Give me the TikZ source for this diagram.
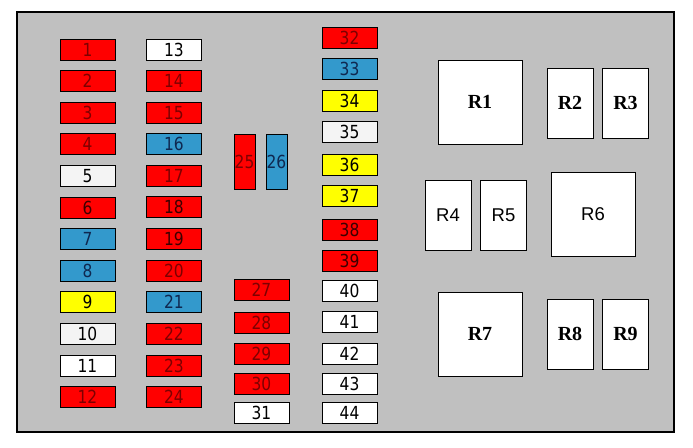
\documentclass[tikz,border=0pt]{standalone}
\usepackage{fontspec}
\newfontfamily\fusefont[FakeStretch=0.86]{DejaVu Sans}
\newfontfamily\relaysans{Liberation Sans}
\newfontfamily\relayserif{Liberation Serif}

\definecolor{boxgrey}{RGB}{192,192,192}
\definecolor{fusered}{RGB}{255,0,0}
\definecolor{fuseblue}{RGB}{51,153,204}
\definecolor{fuseyellow}{RGB}{255,255,0}
\definecolor{fuseoff}{RGB}{244,244,244}
\definecolor{redtext}{RGB}{125,0,0}
\definecolor{darkredtext}{RGB}{60,0,0}
\definecolor{bluetext}{RGB}{15,40,80}

\tikzset{
  fuse/.style={draw=black,line width=0.9pt,rectangle,inner sep=0pt,
    minimum width=55pt,minimum height=21pt,font=\fusefont\fontsize{18}{18}\selectfont},
  tallfuse/.style={fuse,minimum width=21pt,minimum height=55pt},
  redfuse/.style={fill=fusered,text=redtext},
  darkfuse/.style={fill=fusered,text=darkredtext},
  bluefuse/.style={fill=fuseblue,text=bluetext},
  yellowfuse/.style={fill=fuseyellow,text=black},
  whitefuse/.style={fill=white,text=black},
  offfuse/.style={fill=fuseoff,text=black},
  bigrelay/.style={draw=black,line width=0.9pt,fill=white,inner sep=0pt,
    minimum width=84pt,minimum height=84pt},
  smallrelay/.style={draw=black,line width=0.9pt,fill=white,inner sep=0pt,
    minimum width=46pt,minimum height=70pt},
  serifbold/.style={font=\relayserif\bfseries\fontsize{20}{20}\selectfont},
  plainsans/.style={font=\relaysans\fontsize{18.5}{18.5}\selectfont}
}

\begin{document}
\begin{tikzpicture}[x=1pt,y=-1pt]
  \useasboundingbox (0,0) rectangle (693,447);
  \draw[line width=1.2pt,fill=boxgrey] (17,12) rectangle (674,432);

  % first column
  \node[fuse,redfuse]    (f1)  at (87.5,49.5)  {1};
  \node[fuse,redfuse]    (f2)  at (87.5,81.1)  {2};
  \node[fuse,redfuse]    (f3)  at (87.5,112.7) {3};
  \node[fuse,redfuse]    (f4)  at (87.5,144.3) {4};
  \node[fuse,offfuse]    (f5)  at (87.5,175.9) {5};
  \node[fuse,darkfuse]   (f6)  at (87.5,207.5) {6};
  \node[fuse,bluefuse]   (f7)  at (87.5,239.1) {7};
  \node[fuse,bluefuse]   (f8)  at (87.5,270.7) {8};
  \node[fuse,yellowfuse] (f9)  at (87.5,302.3) {9};
  \node[fuse,offfuse]    (f10) at (87.5,333.9) {10};
  \node[fuse,whitefuse]  (f11) at (87.5,365.5) {11};
  \node[fuse,redfuse]    (f12) at (87.5,397.1) {12};

  % second column
  \node[fuse,whitefuse]  (f13) at (174,49.5)  {13};
  \node[fuse,redfuse]    (f14) at (174,81.1)  {14};
  \node[fuse,redfuse]    (f15) at (174,112.7) {15};
  \node[fuse,bluefuse]   (f16) at (174,144.3) {16};
  \node[fuse,redfuse]    (f17) at (174,175.9) {17};
  \node[fuse,darkfuse]   (f18) at (174,206.5) {18};
  \node[fuse,darkfuse]   (f19) at (174,239.1) {19};
  \node[fuse,redfuse]    (f20) at (174,270.7) {20};
  \node[fuse,bluefuse]   (f21) at (174,302.3) {21};
  \node[fuse,redfuse]    (f22) at (174,333.9) {22};
  \node[fuse,redfuse]    (f23) at (174,365.5) {23};
  \node[fuse,redfuse]    (f24) at (174,397.1) {24};

  % upright pair
  \node[tallfuse,redfuse]  (f25) at (244.5,161.5) {25};
  \node[tallfuse,bluefuse] (f26) at (276.5,161.5) {26};

  % third column
  \node[fuse,redfuse]   (f27) at (261.5,289.5) {27};
  \node[fuse,redfuse]   (f28) at (261.5,322.5) {28};
  \node[fuse,redfuse]   (f29) at (261.5,353.5) {29};
  \node[fuse,redfuse]   (f30) at (261.5,383.5) {30};
  \node[fuse,whitefuse] (f31) at (261.5,412.5) {31};

  % fourth column
  \node[fuse,redfuse]    (f32) at (349.5,37.5)  {32};
  \node[fuse,bluefuse]   (f33) at (349.5,69)    {33};
  \node[fuse,yellowfuse] (f34) at (349.5,100.5) {34};
  \node[fuse,offfuse]    (f35) at (349.5,131.5) {35};
  \node[fuse,yellowfuse] (f36) at (349.5,164.5) {36};
  \node[fuse,yellowfuse] (f37) at (349.5,195.5) {37};
  \node[fuse,darkfuse]   (f38) at (349.5,229.5) {38};
  \node[fuse,darkfuse]   (f39) at (349.5,260.5) {39};
  \node[fuse,whitefuse]  (f40) at (349.5,290.5) {40};
  \node[fuse,whitefuse]  (f41) at (349.5,321.5) {41};
  \node[fuse,whitefuse]  (f42) at (349.5,353.5) {42};
  \node[fuse,whitefuse]  (f43) at (349.5,383.5) {43};
  \node[fuse,whitefuse]  (f44) at (349.5,412.5) {44};

  % relays
  \node[bigrelay,serifbold]   (r1) at (480,102)   {R1};
  \node[smallrelay,serifbold] (r2) at (570,103)   {R2};
  \node[smallrelay,serifbold] (r3) at (625.5,103) {R3};
  \node[smallrelay,plainsans] (r4) at (448,215)   {R4};
  \node[smallrelay,plainsans] (r5) at (503.5,215) {R5};
  \node[bigrelay,plainsans]   (r6) at (593,214)   {R6};
  \node[bigrelay,serifbold]   (r7) at (480,334)   {R7};
  \node[smallrelay,serifbold] (r8) at (570,334)   {R8};
  \node[smallrelay,serifbold] (r9) at (625.5,334) {R9};

\end{tikzpicture}
\end{document}
